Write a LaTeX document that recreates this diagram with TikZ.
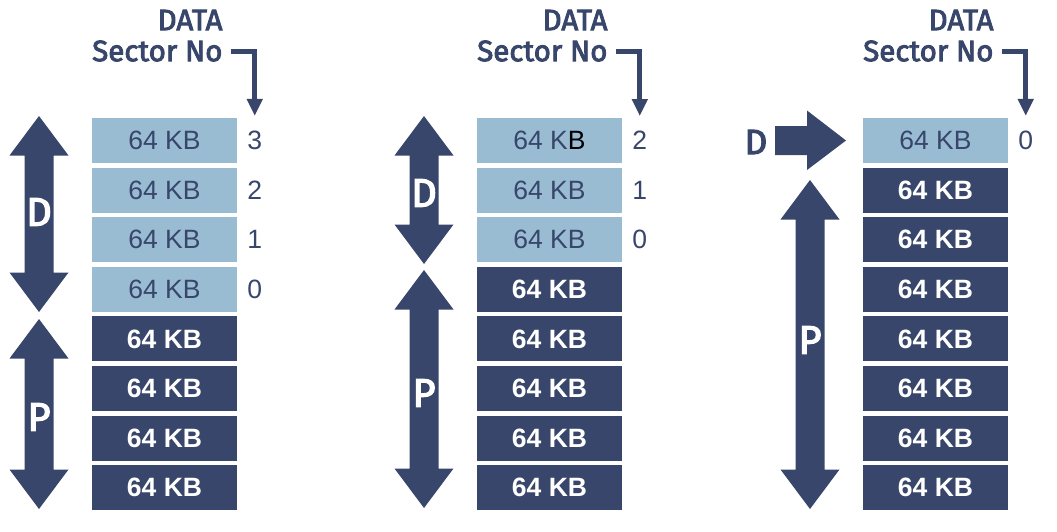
\documentclass[tikz,border=0pt]{standalone}
\usepackage{fontspec}
\setmainfont{Liberation Sans}
\newfontfamily\headfont{Fira Sans}[FakeBold=3]
\usepackage{tikz}
\usetikzlibrary{positioning, arrows.meta}
\definecolor{navy}{HTML}{37466A}
\definecolor{skyblue}{HTML}{9ABCD3}

\tikzset{
	lightbox/.style={fill=skyblue, minimum width=145pt, minimum height=45pt, inner sep=0pt, text=navy, font=\fontsize{26.5}{26.5}\selectfont},
	darkbox/.style={fill=navy, minimum width=145pt, minimum height=45pt, inner sep=0pt, text=white, font=\fontsize{26.5}{26.5}\selectfont\bfseries},
	secno/.style={inner sep=0pt, text=navy, font=\fontsize{26.5}{26.5}\selectfont},
	head/.style={inner sep=0pt, text=navy, font=\headfont\fontsize{29.5}{29.5}\selectfont},
	letter/.style={inner sep=0pt, text=white, font=\headfont\fontsize{40}{40}\selectfont},
	bent/.style={navy, line width=5pt, shorten >=15pt, -{Triangle[width=15pt,length=17pt]}}
}

% up/down block arrow: x, top tip, bottom tip
\newcommand{\blockarrow}[3]{%
	\fill[navy] (#1,#2) -- (#1+29.5,#2+39.5) -- (#1+14.5,#2+39.5) -- (#1+14.5,#3-39.5) -- (#1+29.5,#3-39.5) -- (#1,#3)
	-- (#1-29.5,#3-39.5) -- (#1-14.5,#3-39.5) -- (#1-14.5,#2+39.5) -- (#1-29.5,#2+39.5) -- cycle;}

\begin{document}
\begin{tikzpicture}[x=1pt, y=-1pt]
	\useasboundingbox (0,0) rectangle (1057,531);
	
	% column A
	\node(secA) [head, anchor=west] at (92,51) {Sector No};
	\node(dataA) [head, anchor=base east] at ([yshift=31pt]secA.base east) {DATA};
	\foreach \r/\n in {1/3,2/2,3/1,4/0}{
		\node(A\r) [lightbox] at (164.5,{140.5+49.6*(\r-1)}) {64 KB};
		\node(nA\r) [secno, right=10pt of A\r] {\n};
	}
	\foreach \r in {5,...,8}
		\node(A\r) [darkbox] at (164.5,{140.5+49.6*(\r-1)}) {64 KB};
	\draw[bent] ([xshift=8pt]secA.east) -| (nA1.north);
	\blockarrow{39}{116}{312}
	\blockarrow{39}{319}{509}
	\node(dA) [letter] at (39,212) {D};
	\node(pA) [letter] at (39,417) {P};
	
	% column B
	\node(secB) [head, anchor=west] at (477,51) {Sector No};
	\node(dataB) [head, anchor=base east] at ([yshift=31pt]secB.base east) {DATA};
	\node(B1) [lightbox] at (549.5,140.5) {64 K{\color{black}B}};
	\node(nB1) [secno, right=10pt of B1] {2};
	\foreach \r/\n in {2/1,3/0}{
		\node(B\r) [lightbox] at (549.5,{140.5+49.6*(\r-1)}) {64 KB};
		\node(nB\r) [secno, right=10pt of B\r] {\n};
	}
	\foreach \r in {4,...,8}
		\node(B\r) [darkbox] at (549.5,{140.5+49.6*(\r-1)}) {64 KB};
	\draw[bent] ([xshift=8pt]secB.east) -| (nB1.north);
	\blockarrow{424}{116}{264}
	\blockarrow{424}{270}{508}
	\node(dB) [letter] at (424,193) {D};
	\node(pB) [letter] at (424,393) {P};
	
	% column C
	\node(secC) [head, anchor=west] at (863,51) {Sector No};
	\node(dataC) [head, anchor=base east] at ([yshift=31pt]secC.base east) {DATA};
	\node(C1) [lightbox] at (935.5,140.5) {64 KB};
	\node(nC1) [secno, right=10pt of C1] {0};
	\foreach \r in {2,...,8}
		\node(C\r) [darkbox] at (935.5,{140.5+49.6*(\r-1)}) {64 KB};
	\draw[bent] ([xshift=8pt]secC.east) -| (nC1.north);
	\fill[navy] (775,126) -- (807,126) -- (807,110.5) -- (846,140.5) -- (807,170) -- (807,155) -- (775,155) -- cycle;
	\node(dC) [letter, text=navy, font=\headfont\fontsize{35}{35}\selectfont] at (756,142) {D};
	\blockarrow{810}{180}{509}
	\node(pC) [letter] at (810,340) {P};
	
\end{tikzpicture}
\end{document}
